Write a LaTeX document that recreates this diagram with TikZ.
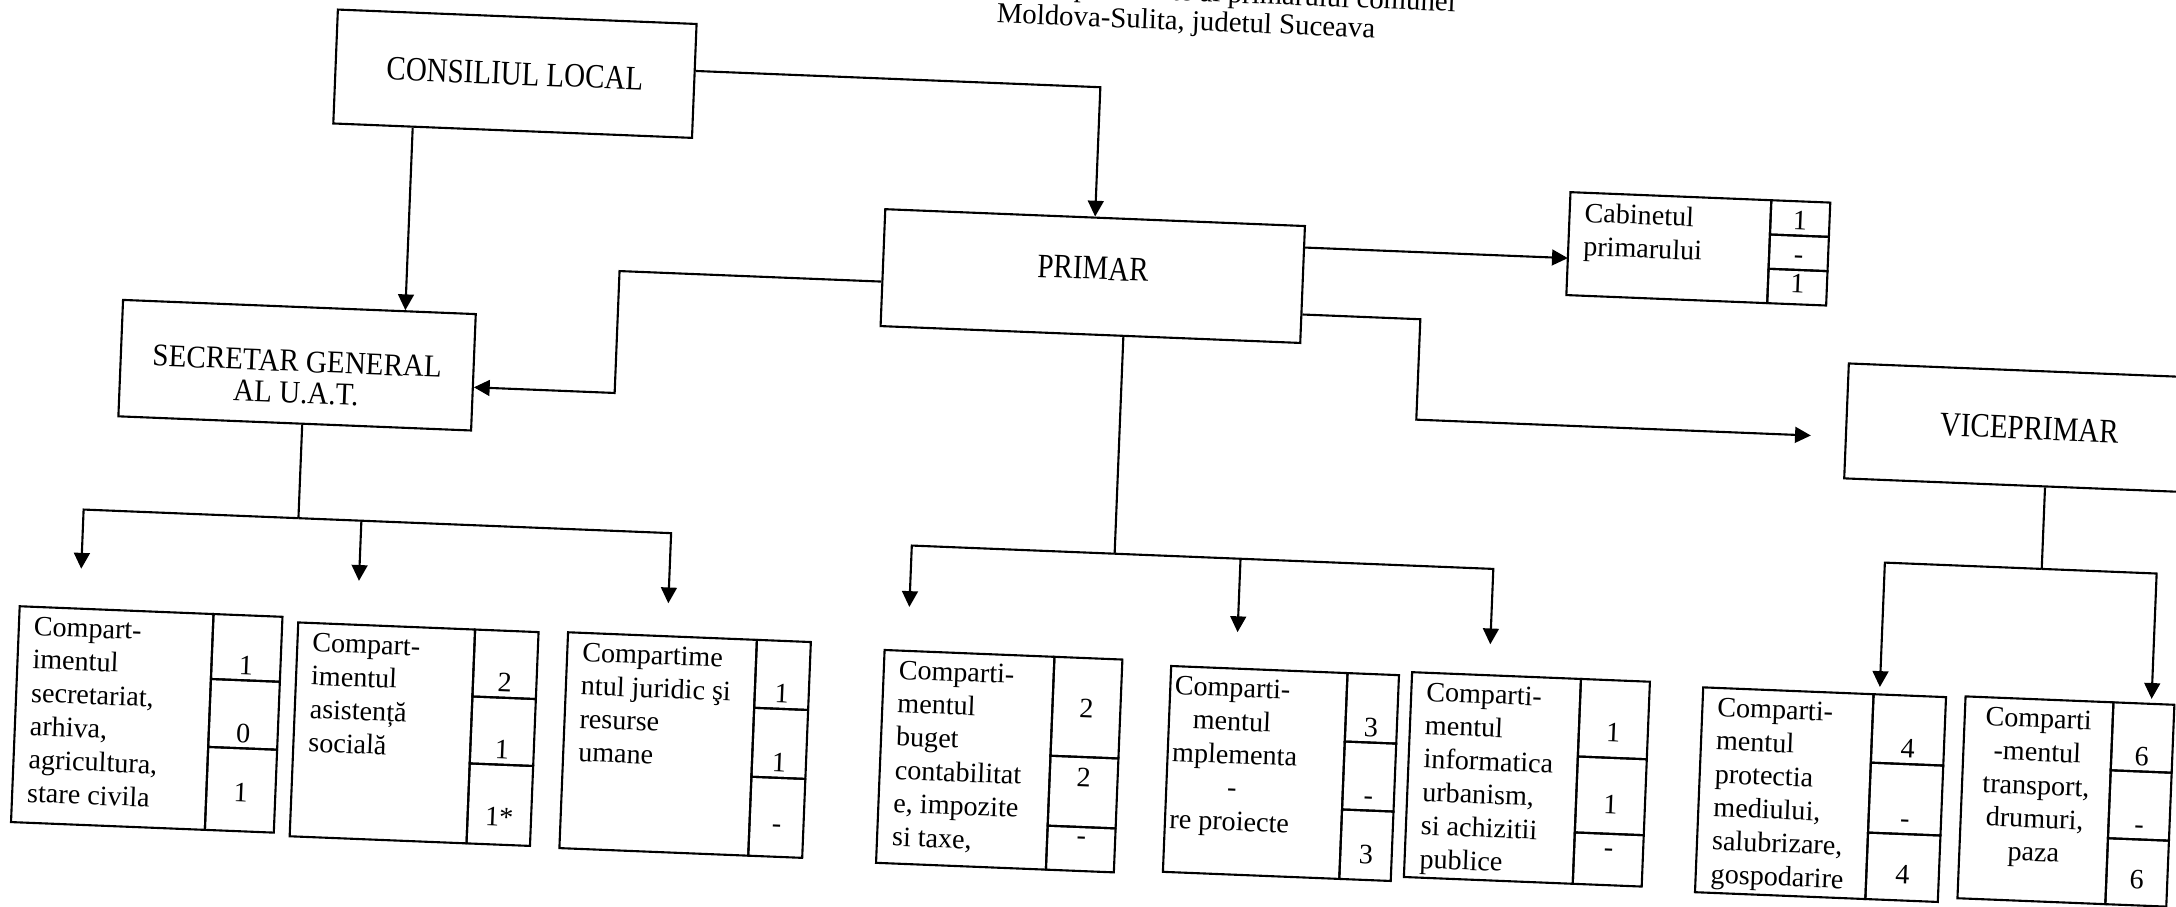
\documentclass[tikz,border=0pt]{standalone}
\usepackage{fontspec}
\setmainfont{Liberation Serif}
\usepackage{graphicx}
\usetikzlibrary{arrows.meta}

\newcommand{\cnd}[1]{\scalebox{0.85}[1]{#1}}
\newcommand{\numcol}[8]{%
        \node[numcell, minimum width=#2, minimum height=#3, label={[num]south:#6}] (#1a) at (#1.north east) {};
        \node[numcell, minimum width=#2, minimum height=#4, label={[num]south:#7}] (#1b) at (#1a.south west) {};
        \node[numcell, minimum width=#2, minimum height=#5, label={[num]south:#8}] (#1c) at (#1b.south west) {};
}

\begin{document}
\begin{tikzpicture}[line width=0.6pt,
                font=\fontsize{8}{9.5}\selectfont,
                box/.style={draw, inner sep=0pt, align=center, font=\fontsize{9.7}{9.2}\selectfont},
                cell/.style={draw, anchor=north west, inner sep=0pt, outer sep=0pt},
                txt/.style={anchor=north west, align=left, inner xsep=4pt, inner ysep=2.5pt},
                numcell/.style={draw, anchor=north west, inner sep=0pt, outer sep=0pt},
                num/.style={anchor=base, yshift=0.06cm, inner sep=0pt},
                arr/.style={-{Triangle[length=4.5pt,width=4.5pt]}}]
        \useasboundingbox (0,0) rectangle (21.76,-9.06);
        \begin{scope}[transform canvas={rotate=-2.3}]
                \node[anchor=base east, font=\fontsize{8.2}{9.5}\selectfont] (hd1) at (14.675,0.467) {specialitate al primarului comunei};
                \node[anchor=base, font=\fontsize{8.2}{9.5}\selectfont] (hd2) at (11.86,0.174) {Moldova-Sulita, judetul Suceava};

                \node[box, minimum width=3.59cm, minimum height=1.14cm] (cl) at (5.175,-0.53) {\cnd{CONSILIUL LOCAL}};
                \node[box, minimum width=3.53cm, minimum height=1.165cm, font=\fontsize{9}{9}\selectfont, text height=21.8pt] (sg) at (3.115,-3.53) {\scalebox{0.92}[1]{SECRETAR GENERAL}\\\scalebox{0.92}[1]{AL U.A.T.}};
                \node[box, minimum width=4.2cm, minimum height=1.17cm, text depth=4.5pt] (pr) at (11.03,-2.32) {\cnd{PRIMAR}};
                \node[box, minimum width=3.66cm, minimum height=1.15cm] (vp) at (20.45,-3.465) {\cnd{VICEPRIMAR}};

                \node[cell, minimum width=2.01cm, minimum height=1.03cm] (cab) at (15.77,-1.29) {};
                \node[txt] (cabtxt) at (cab.north west) {Cabinetul\\primarului};
                \numcol{cab}{0.59cm}{0.343cm}{0.343cm}{0.344cm}{1}{-}{\raisebox{1.5pt}{1}}

                \node[cell, minimum width=1.94cm, minimum height=2.16cm] (sec) at (0.44,-6.05) {};
                \node[txt] (sectxt) at (sec.north west) {Compart-\\imentul\\secretariat,\\arhiva,\\agricultura,\\stare civila};
                \numcol{sec}{0.69cm}{0.65cm}{0.68cm}{0.83cm}{1}{0}{\raisebox{6.6pt}{1}}

                \node[cell, minimum width=1.77cm, minimum height=2.14cm] (asis) at (3.23,-6.10) {};
                \node[txt] (asistxt) at (asis.north west) {Compart-\\imentul\\asistență\\socială};
                \numcol{asis}{0.635cm}{0.67cm}{0.67cm}{0.80cm}{2}{1}{\raisebox{3.6pt}{1*}}

                \node[cell, minimum width=1.89cm, minimum height=2.16cm] (jur) at (5.93,-6.09) {};
                \node[txt] (jurtxt) at (jur.north west) {Compartime\\ntul juridic şi\\resurse\\umane};
                \numcol{jur}{0.54cm}{0.68cm}{0.69cm}{0.79cm}{1}{1}{\raisebox{5.1pt}{-}}

                \node[cell, minimum width=1.70cm, minimum height=2.13cm] (buget) at (9.10,-6.14) {};
                \node[txt] (bugettxt) at (buget.north west) {Comparti-\\mentul\\buget\\contabilitat\\e, impozite\\si taxe,};
                \numcol{buget}{0.68cm}{0.99cm}{0.70cm}{0.44cm}{\raisebox{9.5pt}{2}}{\raisebox{9.8pt}{2}}{\raisebox{5.9pt}{-}}

                \node[cell, minimum width=1.765cm, minimum height=2.06cm] (impl) at (11.97,-6.185) {};
                \node[txt, inner xsep=1pt] (impltxt) at (impl.north west) {Comparti-\\\hspace*{5.5pt}mentul\\mplementa\\\hspace*{16pt}-\\re proiecte};
                \numcol{impl}{0.515cm}{0.685cm}{0.68cm}{0.695cm}{3}{-}{\raisebox{3pt}{3}}

                \node[cell, minimum width=1.69cm, minimum height=2.05cm] (info) at (14.38,-6.15) {};
                \node[txt] (infotxt) at (info.north west) {Comparti-\\mentul\\informatica\\urbanism,\\si achizitii\\publice};
                \numcol{info}{0.69cm}{0.776cm}{0.76cm}{0.514cm}{\raisebox{2.9pt}{1}}{\raisebox{4.1pt}{1}}{\raisebox{6.5pt}{-}}

                \node[cell, minimum width=1.705cm, minimum height=2.05cm] (mediu) at (17.295,-6.185) {};
                \node[txt] (mediutxt) at (mediu.north west) {Comparti-\\mentul\\protectia\\mediului,\\salubrizare,\\gospodarire};
                \numcol{mediu}{0.725cm}{0.685cm}{0.70cm}{0.665cm}{4}{-}{\raisebox{3pt}{4}}

                \node[cell, minimum width=1.48cm, minimum height=2.02cm] (transp) at (19.92,-6.17) {};
                \node[txt, anchor=north, align=center] (transptxt) at (transp.north) {Comparti\\-mentul\\transport,\\drumuri,\\paza};
                \numcol{transp}{0.61cm}{0.68cm}{0.68cm}{0.66cm}{6}{-}{\raisebox{3pt}{6}}

                \coordinate (t1) at (1.04,-5.65);
                \coordinate (t2) at (3.82,-5.66);
                \coordinate (t3) at (6.92,-5.76);
                \coordinate (t4) at (9.33,-5.70);
                \coordinate (t5) at (12.62,-5.82);
                \coordinate (t6) at (15.15,-5.84);
                \coordinate (t7) at (19.06,-6.11);
                \coordinate (t8) at (21.78,-6.12);

                \draw[arr] ([xshift=-1cm]cl.south) -- ([xshift=1.06cm]sg.north);
                \draw[arr] ([yshift=1mm]cl.east) -| (pr.north);
                \draw[arr] ([yshift=-1.4mm]pr.west) -- ++(-2.62,0) |- ([yshift=-1.5mm]sg.east);
                \draw[arr] ([yshift=3.7mm]pr.east) -- ([yshift=-1.45mm]cab.west);
                \draw[arr] ([yshift=-3mm]pr.east) -- ++(1.18,0) |- ([xshift=-3.4mm,yshift=-1.6mm]vp.west);

                \draw ([xshift=0.75mm]sg.south) -- ++(0,-0.935) coordinate (sgbar);
                \draw[arr] (sgbar) -| (t1);
                \draw[arr] (sgbar) -| (t3);
                \draw[arr] (sgbar -| t2) -- (t2);

                \draw ([xshift=3.3mm]pr.south) -- ++(0,-2.17) coordinate (prbar);
                \draw[arr] (prbar) -| (t4);
                \draw[arr] (prbar) -| (t6);
                \draw[arr] (prbar -| t5) -- (t5);

                \draw ([xshift=1.8mm]vp.south) -- ++(0,-0.815) coordinate (vpbar);
                \draw[arr] (vpbar) -| (t7);
                \draw[arr] (vpbar) -| (t8);
        \end{scope}
\end{tikzpicture}
\end{document}
